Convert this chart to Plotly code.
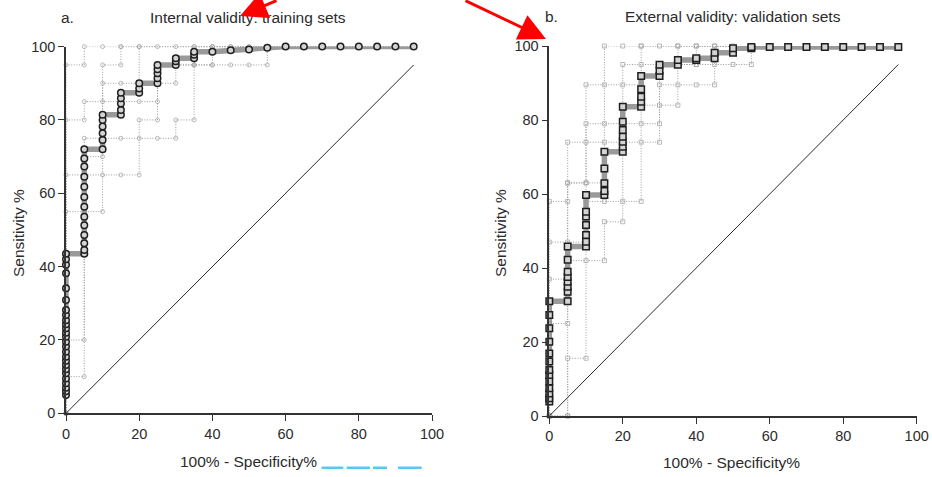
import plotly.graph_objects as go

W, H = 932, 477

# ---------------- DATA ----------------
# Panel a (training sets): pooled ROC, sensitivity values listed per (100 - specificity) column
a_cols = [0, 5, 10, 15, 20, 25, 30, 35, 40, 45, 50, 55, 60, 65, 70, 75, 80, 85, 90, 95]
a_sens = [
    [5, 6, 7, 8.2, 9.5, 10.9, 12, 13.2, 14.3, 15.4, 16.8, 18.2, 19.5, 20.9, 22, 23.2,
     24.3, 25.4, 26.8, 28.2, 30.9, 34.1, 38.2, 40.5, 42, 43.5],
    [43.5, 44.5, 46.4, 48.6, 51.3, 53.6, 56.3, 59, 61.8, 64.5, 67.3, 69.5, 72],
    [72, 74.5, 76.4, 78.2, 80, 81.4],
    [81.4, 82.7, 84.5, 85.9, 87.4],
    [87.4, 88.6, 90],
    [90, 91.4, 92.7, 93.8, 95],
    [95, 96, 96.8],
    [96.8, 97.8, 98.6],
    [98.6],
    [99],
    [99.2],
    [99.7],
    [100], [100], [100], [100], [100], [100], [100], [100],
]

# Panel a: individual training-set curves (100-spec, sens)
a_set1_x = [0, 0, 5, 5, 10, 15, 20, 25, 30, 35, 40, 45, 50, 55, 60, 65, 70, 75, 80, 85, 90, 95]
a_set1_y = [0, 95, 95, 100, 100, 100, 100, 100, 100, 100, 100, 100, 100, 100, 100, 100, 100, 100, 100, 100, 100, 100]
a_set2_x = [0, 0, 5, 5, 10, 15, 20, 25, 25, 30, 35, 35, 40, 45, 50, 95]
a_set2_y = [0, 80, 80, 85, 85, 85, 85, 85, 95, 95, 95, 100, 100, 100, 100, 100]
a_set3_x = [0, 0, 5, 10, 10, 15, 20, 20, 95]
a_set3_y = [0, 55, 55, 55, 90, 90, 90, 100, 100]
a_set4_x = [0, 0, 5, 10, 15, 20, 20, 25, 25, 30, 30, 35, 40, 40, 95]
a_set4_y = [0, 65, 65, 65, 65, 65, 80, 80, 90, 90, 95, 95, 95, 100, 100]
a_set5_x = [0, 0, 5, 5, 10, 15, 20, 25, 30, 30, 35, 35, 40, 45, 50, 55, 55, 95]
a_set5_y = [0, 10, 10, 75, 75, 75, 75, 75, 75, 80, 80, 95, 95, 95, 95, 95, 100, 100]
a_set6_x = [0, 0, 5, 5, 10, 10, 15, 15, 95]
a_set6_y = [0, 20, 20, 70, 70, 95, 95, 100, 100]

# Panel b (validation sets): pooled ROC
b_cols = [0, 5, 10, 15, 20, 25, 30, 35, 40, 45, 50, 55, 60, 65, 70, 75, 80, 85, 90, 95]
b_sens = [
    [3.9, 4.8, 6.1, 7.5, 9.3, 11.1, 12.4, 14.7, 16.9, 20.1, 23.7, 27.3, 31],
    [31, 33.6, 34.9, 36.3, 37.6, 39, 42.2, 45.8],
    [45.8, 47.1, 48.9, 51.6, 53.9, 55.2, 59.7],
    [59.7, 60.8, 62.9, 66.9, 71.4],
    [71.4, 72.8, 74.1, 75.5, 77.3, 79.5, 83.6],
    [83.6, 84.9, 86.3, 88.3, 91.9],
    [91.9, 93.3, 94.9],
    [94.9, 96.2],
    [96.2, 96.7],
    [96.7, 98.2],
    [98.2, 99.4],
    [99.4, 99.7],
    [99.7], [99.7], [99.7], [99.7], [99.7], [99.7], [99.7], [99.7],
]

# Panel b: individual validation-set curves
b_set1_x = [0, 0, 5, 5, 10, 15, 15, 20, 25, 30, 35, 40, 45, 50, 55, 60, 65, 70, 75, 80, 85, 90, 95]
b_set1_y = [0, 58, 58, 63, 63, 63, 100, 100, 100, 100, 100, 100, 100, 100, 100, 100, 100, 100, 100, 100, 100, 100, 100]
b_set2_x = [0, 0, 5, 5, 10, 15, 20, 25, 30, 30, 35, 40, 45, 45, 95]
b_set2_y = [0, 37, 37, 74, 74, 74, 74, 74, 74, 89.5, 89.5, 89.5, 89.5, 100, 100]
b_set3_x = [0, 5, 5, 10, 15, 15, 20, 20, 25, 30, 35, 40, 45, 50, 55, 55, 95]
b_set3_y = [0, 0, 42, 42, 42, 52.5, 52.5, 95, 95, 95, 95, 95, 95, 95, 95, 100, 100]
b_set4_x = [0, 5, 5, 10, 10, 15, 20, 25, 25, 95]
b_set4_y = [0, 0, 15.6, 15.6, 89.5, 89.5, 89.5, 89.5, 100, 100]
b_set5_x = [0, 0, 5, 10, 10, 15, 20, 25, 25, 30, 35, 35, 95]
b_set5_y = [0, 47, 47, 47, 58, 58, 58, 58, 84, 84, 84, 100, 100]
b_set6_x = [0, 0, 5, 5, 10, 10, 15, 20, 25, 30, 30, 35, 40, 40, 95]
b_set6_y = [0, 25, 25, 63, 63, 79, 79, 79, 79, 79, 95, 95, 95, 100, 100]

diag_x = [0, 95]
diag_y = [0, 95]

tick_vals = [0, 20, 40, 60, 80, 100]

title_a = "Internal validity: training sets"
title_b = "External validity: validation sets"
x_title = "100% - Specificity%"
y_title = "Sensitivity %"

# ---------------- FIGURE ----------------
FONT = "Liberation Sans, Arial, sans-serif"
TXT = "#2b2b2b"
fig = go.Figure()


def flatten(cols, sens):
    xs, ys = [], []
    for c, vals in zip(cols, sens):
        for v in vals:
            xs.append(c)
            ys.append(v)
    return xs, ys


def add_panel(xa, ya, sets, cols, sens, symbol, msym_thin):
    for sx, sy in sets:
        fig.add_trace(go.Scatter(
            x=sx, y=sy, xaxis=xa, yaxis=ya, mode="lines+markers",
            line=dict(color="#9c9c9c", width=1, dash="1px,1.6px"),
            marker=dict(symbol=msym_thin, size=4, color="#a8a8a8", line=dict(width=0.8, color="#a8a8a8")),
            cliponaxis=False, showlegend=False, hoverinfo="skip"))
    fig.add_trace(go.Scatter(
        x=diag_x, y=diag_y, xaxis=xa, yaxis=ya, mode="lines",
        line=dict(color="#2a2a2a", width=1), showlegend=False, hoverinfo="skip"))
    mx, my = flatten(cols, sens)
    fig.add_trace(go.Scatter(
        x=mx, y=my, xaxis=xa, yaxis=ya, mode="lines",
        line=dict(color="#9a9a9a", width=5.5), cliponaxis=False,
        showlegend=False, hoverinfo="skip"))
    fig.add_trace(go.Scatter(
        x=mx, y=my, xaxis=xa, yaxis=ya, mode="markers",
        marker=dict(symbol=symbol, size=6.5, color="#d4d4d4", line=dict(width=1.5, color="#1e1e1e")),
        cliponaxis=False, showlegend=False))


add_panel("x", "y",
          [(a_set1_x, a_set1_y), (a_set2_x, a_set2_y), (a_set3_x, a_set3_y),
           (a_set4_x, a_set4_y), (a_set5_x, a_set5_y), (a_set6_x, a_set6_y)],
          a_cols, a_sens, "circle", "circle-open")
add_panel("x2", "y2",
          [(b_set1_x, b_set1_y), (b_set2_x, b_set2_y), (b_set3_x, b_set3_y),
           (b_set4_x, b_set4_y), (b_set5_x, b_set5_y), (b_set6_x, b_set6_y)],
          b_cols, b_sens, "square", "square-open")

# the page shows the figure inside a region of about 916x461 px, offset (4, 8)
OX, OY, SW, SH = 4, 8, 916, 461


def px_x(p):
    return (p - OX) / SW


def px_y(p):
    return 1 - (p - OY) / SH


ax_common = dict(range=[0, 100], tickvals=tick_vals, showgrid=False, zeroline=False,
                 showline=True, linecolor="#333333", ticks="outside", ticklen=6,
                 tickwidth=1.4, tickcolor="#333333",
                 tickfont=dict(family=FONT, size=14.5, color=TXT))

fig.update_layout(
    width=W, height=H, margin=dict(l=0, r=0, t=0, b=0, pad=0),
    paper_bgcolor="white", plot_bgcolor="white",
    xaxis=dict(domain=[px_x(66), px_x(432)], anchor="y", linewidth=2, **ax_common),
    yaxis=dict(domain=[px_y(413.3), px_y(46.6)], anchor="x", linewidth=1.5, **ax_common),
    xaxis2=dict(domain=[px_x(549.3), px_x(916.7)], anchor="y2", linewidth=2, **ax_common),
    yaxis2=dict(domain=[px_y(416), px_y(46)], anchor="x2", linewidth=1.5, **ax_common),
)

ann = []


def text(x, y, s, size=15.5, angle=0):
    ann.append(dict(x=px_x(x), y=px_y(y), xref="paper", yref="paper", text=s,
                    showarrow=False, xanchor="center", yanchor="middle", textangle=angle,
                    font=dict(family=FONT, size=size, color=TXT)))


text(67.5, 18, "a.")
text(248, 18, title_a)
text(551, 16, "b.")
text(733, 17, title_b)
text(18, 233, y_title, 15.5, -90)
text(500, 233, y_title, 15.5, -90)
text(248, 461, x_title)
text(731, 462, x_title)

# red arrow overlays
for tipx, tipy, tx, ty in [(240, 16, 278, -34), (546, 39, 464, -10)]:
    ann.append(dict(x=px_x(tipx), y=px_y(tipy), xref="paper", yref="paper",
                    ax=tx - tipx, ay=ty - tipy, axref="pixel", ayref="pixel",
                    showarrow=True, arrowhead=2, arrowsize=1.8, arrowwidth=3,
                    arrowcolor="#ff0000", text=""))
fig.update_layout(annotations=ann)

# light-blue fragment at the bottom edge
for x0, x1 in [(321.7, 343.3), (346.7, 370), (373, 387), (398, 421.7)]:
    fig.add_shape(type="rect", xref="paper", yref="paper",
                  x0=px_x(x0), x1=px_x(x1), y0=0, y1=2.5 / SH,
                  fillcolor="#5cc6f2", line=dict(width=0))

fig.write_html("out.html")
